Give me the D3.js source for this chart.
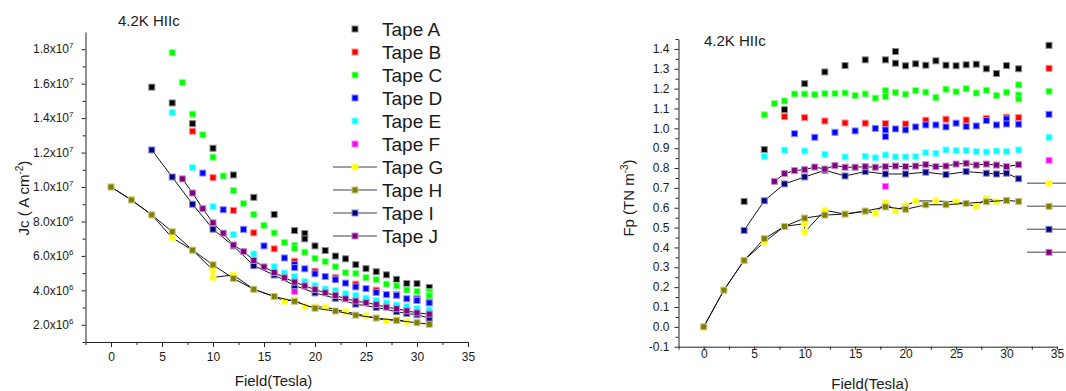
<!DOCTYPE html>
<html><head><meta charset="utf-8">
<script src="https://cdn.jsdelivr.net/npm/d3@7"></script>
<style>
body{margin:0;background:#fff}
svg{display:block}
text{font-family:Arial,"Liberation Sans",sans-serif;fill:#1a1a1a}
</style>
</head><body>
<svg id="c" width="1066" height="391"></svg>
<script>
// ---------- series meta ----------
const tapeNames  = ["Tape A","Tape B","Tape C","Tape D","Tape E","Tape F","Tape G","Tape H","Tape I","Tape J"];
const tapeColors = ["#000000","#ff0000","#00ff00","#0000ff","#00ffff","#ff00ff","#ffff00","#808000","#000080","#800080"];
const tapeLined  = [false,false,false,false,false,false,true,true,true,true];

// ---------- data: field (T), Jc (x10^6 A cm^-2), Fp (TN m^-3) ----------
const fieldA = [4,6,8,10,12,14,16,18,19,19,20,21,22,23,24,25,26,27,28,29,30,31.2];
const jcA    = [15.8,14.88,13.68,12.25,10.7,9.4,8.41,7.47,7.30,6.99,6.58,6.31,5.99,5.83,5.49,5.26,5.08,4.90,4.64,4.40,4.39,4.17];
const fpA    = [0.632,0.893,1.094,1.225,1.284,1.316,1.345,1.345,1.387,1.328,1.315,1.325,1.318,1.34,1.318,1.315,1.32,1.323,1.30,1.276,1.316,1.30];

const fieldB = [8,10,12,14,16,18,20,22,24,26,28,30,31.2];
const jcB    = [13.24,10.54,8.64,7.34,6.41,5.69,5.11,4.73,4.36,4.01,3.75,3.52,3.38];
const fpB    = [1.059,1.054,1.037,1.027,1.026,1.024,1.022,1.041,1.046,1.042,1.05,1.056,1.054];

const fieldC = [6,7,8,9,10,11,12,13,14,15,16,17,18,18,19,20,21,22,23,24,25,26,27,28,29,30,31.2,31.2,31.2];
const jcC    = [17.8,16.07,14.23,13.03,11.73,10.64,9.79,9.04,8.41,7.77,7.33,6.78,6.61,6.44,6.21,5.86,5.67,5.37,5.02,4.99,4.74,4.62,4.36,4.26,4.02,3.94,3.91,3.74,3.68];
const fpC    = [1.068,1.125,1.138,1.173,1.173,1.170,1.175,1.175,1.178,1.165,1.173,1.152,1.19,1.16,1.18,1.172,1.19,1.182,1.155,1.197,1.184,1.20,1.178,1.192,1.165,1.182,1.219,1.168,1.148];

const fieldD = [9,11,13,15,17,18,18,19,20,21,22,23,24,25,26,27,28,29,30,30,31.2];
const jcD    = [10.81,8.68,7.54,6.58,5.88,5.51,5.32,5.25,4.96,4.80,4.62,4.42,4.20,4.10,3.88,3.75,3.71,3.51,3.49,3.41,3.27];
const fpD    = [0.973,0.955,0.980,0.987,1.000,0.992,0.958,0.997,0.992,1.007,1.017,1.017,1.007,1.026,1.009,1.012,1.039,1.017,1.047,1.022,1.021];

const fieldE = [6,8,10,12,14,16,17,18,19,20,21,22,23,24,25,26,27,28,29,30,31.2];
const jcE    = [14.32,11.13,8.86,7.24,6.11,5.37,5.01,4.81,4.51,4.28,4.08,3.99,3.80,3.71,3.55,3.42,3.27,3.15,3.06,2.94,2.86];
const fpE    = [0.859,0.890,0.886,0.869,0.856,0.859,0.852,0.866,0.856,0.856,0.857,0.877,0.874,0.891,0.888,0.888,0.883,0.881,0.886,0.883,0.891];

const fieldF = [18];
const jcF    = [3.93];
const fpF    = [0.708];

const fieldG = [0,2,4,6,8,10,10,12,14,16,17,18,19,20,21,23,25,27,28,29];
const jcG    = [10.0,9.25,8.38,7.05,6.33,5.18,4.75,4.89,4.06,3.64,3.37,3.47,3.08,3.05,3.02,2.76,2.52,2.25,2.31,2.18];
const fpG    = [0,0.185,0.335,0.427,0.506,0.52,0.477,0.587,0.568,0.583,0.573,0.625,0.585,0.61,0.634,0.634,0.63,0.607,0.647,0.632];

const fieldH = [0,2,4,6,8,10,12,14,16,18,20,22,24,26,28,30,31.2];
const jcH    = [10.0,9.25,8.38,7.40,6.33,5.48,4.69,4.06,3.64,3.36,2.96,2.80,2.56,2.39,2.25,2.12,2.03];
const fpH    = [0,0.185,0.335,0.444,0.506,0.548,0.563,0.568,0.583,0.604,0.592,0.615,0.615,0.622,0.630,0.637,0.632];

const fieldI = [4,6,8,10,12,14,16,18,20,22,24,26,28,29,30,31.2];
const jcI    = [12.15,10.58,9.00,7.55,6.58,5.43,4.89,4.28,3.85,3.54,3.20,3.01,2.76,2.66,2.58,2.39];
const fpI    = [0.486,0.635,0.720,0.755,0.789,0.760,0.782,0.770,0.770,0.779,0.767,0.782,0.774,0.770,0.774,0.746];

const fieldJ = [7,8,9,10,11,12,13,14,15,16,17,18,19,20,21,22,23,24,25,26,27,28,29,30,31.2];
const jcJ    = [10.47,9.65,8.74,7.92,7.32,6.63,6.25,5.74,5.36,5.04,4.73,4.48,4.26,4.04,3.86,3.71,3.51,3.38,3.28,3.17,3.02,2.93,2.81,2.69,2.62];
const fpJ    = [0.733,0.772,0.787,0.792,0.805,0.795,0.812,0.804,0.804,0.807,0.804,0.807,0.810,0.807,0.810,0.817,0.807,0.810,0.820,0.824,0.815,0.820,0.815,0.807,0.817];

const fields = [fieldA,fieldB,fieldC,fieldD,fieldE,fieldF,fieldG,fieldH,fieldI,fieldJ];
const jcs    = [jcA,jcB,jcC,jcD,jcE,jcF,jcG,jcH,jcI,jcJ];
const fps    = [fpA,fpB,fpC,fpD,fpE,fpF,fpG,fpH,fpI,fpJ];

// ---------- ticks ----------
const fieldTicks      = [0,5,10,15,20,25,30,35];
const fieldMinorTicks = [-2.5,2.5,7.5,12.5,17.5,22.5,27.5,32.5];
const jcTicks         = [2,4,6,8,10,12,14,16,18];          // x10^6
const jcMinorTicks    = [1,3,5,7,9,11,13,15,17];
const fpTicks         = [-0.1,0,0.1,0.2,0.3,0.4,0.5,0.6,0.7,0.8,0.9,1.0,1.1,1.2,1.3,1.4];
const fpMinorTicks    = [-0.05,0.05,0.15,0.25,0.35,0.45,0.55,0.65,0.75,0.85,0.95,1.05,1.15,1.25,1.35,1.45];

const titleText = "4.2K HIIc";
const xLabelText = "Field(Tesla)";

const svg = d3.select("#c");
svg.append("rect").attr("width",1066).attr("height",391).attr("fill","#fff");

function lighter(c){ return d3.interpolateRgb(c,"#ffffff")(0.55); }

function drawPanel(p){
  const g = svg.append("g");
  const x = d3.scaleLinear().domain([-2.5,35]).range(p.xRange);
  const y = d3.scaleLinear().domain(p.yDomain).range(p.yRange);
  const x0 = p.xRange[0], yb = p.yRange[0];

  // x axis
  const gx = g.append("g").attr("transform",`translate(0,${yb})`);
  gx.call(d3.axisBottom(x).tickValues(fieldTicks).tickSize(p.xMajor).tickPadding(p.xPad).tickSizeOuter(0));
  gx.append("g").call(d3.axisBottom(x).tickValues(fieldMinorTicks).tickSize(3).tickFormat("").tickSizeOuter(0))
    .select(".domain").remove();
  // y axis
  const gy = g.append("g").attr("transform",`translate(${x0},0)`);
  gy.call(d3.axisLeft(y).tickValues(p.yTicks).tickSize(4).tickPadding(p.yPad).tickSizeOuter(0).tickFormat(""));
  gy.append("g").call(d3.axisLeft(y).tickValues(p.yMinor).tickSize(3).tickFormat("").tickSizeOuter(0))
    .select(".domain").remove();
  g.selectAll(".domain,.tick line").attr("stroke","#222").attr("stroke-width",1);
  gx.selectAll(".tick text").attr("font-size",12).attr("fill","#1a1a1a").attr("font-family",'Arial,"Liberation Sans",sans-serif');

  // y tick labels (custom, with superscripts)
  p.yTicks.forEach(v=>{
    const t = g.append("text").attr("x",x0-p.yPad-4).attr("y",y(v)).attr("dy","0.35em")
      .attr("text-anchor","end").attr("font-size",12);
    p.yFormat(t,v);
  });

  // series
  for(let i=0;i<10;i++){
    const pts = fields[i].map((f,j)=>[f,p.vals[i][j]]);
    if(tapeLined[i]){
      g.append("path").datum(pts).attr("fill","none").attr("stroke","#111").attr("stroke-width",1)
        .attr("d",d3.line().x(d=>x(d[0])).y(d=>y(d[1])));
    }
    g.append("g").selectAll("rect").data(pts).join("rect")
      .attr("x",d=>x(d[0])-3).attr("y",d=>y(d[1])-3).attr("width",6).attr("height",6)
      .attr("fill",tapeColors[i]).attr("stroke",lighter(tapeColors[i])).attr("stroke-width",1);
  }

  // title
  g.append("text").attr("x",p.title[0]).attr("y",p.title[1]).attr("font-size",15).text(titleText);
  // x label
  g.append("text").attr("x",p.xLab[0]).attr("y",p.xLab[1]).attr("text-anchor","middle").attr("font-size",15).text(xLabelText);
  // y label
  const yl = g.append("text").attr("transform",`translate(${p.yLab[0]},${p.yLab[1]}) rotate(-90)`)
    .attr("text-anchor","middle").attr("font-size",15);
  yl.append("tspan").text(p.yLabParts[0]);
  yl.append("tspan").attr("dy",-6).attr("font-size",10).text(p.yLabParts[1]);
  yl.append("tspan").attr("dy",6).text(p.yLabParts[2]);

  // legend
  tapeNames.forEach((n,i)=>{
    const ly = p.leg[1] + i*23;
    if(tapeLined[i]){
      g.append("line").attr("x1",p.leg[0]-22).attr("x2",p.leg[0]+22).attr("y1",ly).attr("y2",ly)
        .attr("stroke","#808080").attr("stroke-width",1.5);
    }
    g.append("rect").attr("x",p.leg[0]-3).attr("y",ly-3).attr("width",6).attr("height",6)
      .attr("fill",tapeColors[i]).attr("stroke",lighter(tapeColors[i])).attr("stroke-width",1);
    if(p.legText){
      g.append("text").attr("x",p.leg[0]+27).attr("y",ly).attr("dy","0.36em").attr("font-size",19).text(n);
    }
  });
}

function jcFormat(t,v){
  const exp = v>=10 ? 7 : 6;
  const m = v>=10 ? v/10 : v;
  t.append("tspan").text(m.toFixed(1)+"x10");
  t.append("tspan").attr("dy",-5).attr("font-size",8).text(exp);
}
function fpFormat(t,v){ t.text(v.toFixed(1)); }

drawPanel({
  xRange:[85.5,468], yRange:[342,32], yDomain:[1,19],
  yTicks:jcTicks, yMinor:jcMinorTicks, yFormat:jcFormat, vals:jcs,
  xMajor:5, xPad:5.5, yPad:8,
  title:[118,26], xLab:[273.5,386], yLab:[29,198], yLabParts:["Jc ( A cm","-2",")"],
  leg:[355,29], legText:true
});
drawPanel({
  xRange:[678.5,1057], yRange:[346.7,39], yDomain:[-0.1,1.45],
  yTicks:fpTicks, yMinor:fpMinorTicks, yFormat:fpFormat, vals:fps,
  xMajor:3, xPad:0, yPad:5,
  title:[704,46], xLab:[870,389], yLab:[634,198], yLabParts:["Fp (TN m","-3",")"],
  leg:[1049,45.3], legText:false
});
</script>
</body></html>
